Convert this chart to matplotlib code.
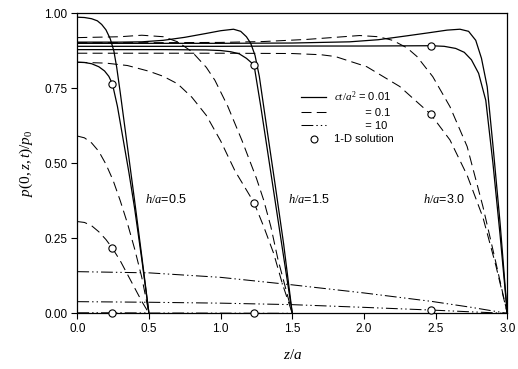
import matplotlib
matplotlib.use("Agg")
import matplotlib.pyplot as plt
from matplotlib.lines import Line2D

plt.rcParams['font.family'] = ['Liberation Sans', 'DejaVu Sans']
plt.rcParams['mathtext.fontset'] = 'custom'
plt.rcParams['mathtext.it'] = 'Liberation Serif:italic'
plt.rcParams['mathtext.rm'] = 'Liberation Serif'
plt.rcParams['lines.scale_dashes'] = False

# ---- h/a = 0.5 ----
z_s05a = [0, 0.05, 0.1, 0.14, 0.17, 0.2, 0.23, 0.255, 0.275, 0.3, 0.35, 0.4, 0.45, 0.5]
p_s05a = [0.987, 0.986, 0.982, 0.975, 0.963, 0.945, 0.915, 0.875, 0.82, 0.735, 0.555, 0.375, 0.19, 0.0]
z_s05b = [0, 0.05, 0.1, 0.15, 0.19, 0.22, 0.245, 0.28, 0.32, 0.36, 0.4, 0.45, 0.5]
p_s05b = [0.837, 0.836, 0.832, 0.822, 0.808, 0.79, 0.765, 0.69, 0.58, 0.47, 0.35, 0.18, 0.0]
z_d05a = [0, 0.05, 0.1, 0.15, 0.2, 0.25, 0.3, 0.35, 0.4, 0.45, 0.5]
p_d05a = [0.591, 0.585, 0.568, 0.54, 0.497, 0.443, 0.375, 0.3, 0.215, 0.12, 0.0]
z_d05b = [0, 0.05, 0.1, 0.15, 0.2, 0.245, 0.3, 0.35, 0.4, 0.45, 0.5]
p_d05b = [0.306, 0.303, 0.292, 0.272, 0.246, 0.217, 0.175, 0.13, 0.085, 0.04, 0.0]
z_dd05 = [0, 0.25, 0.5]
p_dd05 = [0.001, 0.001, 0.0]

# ---- h/a = 1.5 ----
z_s15a = [0, 0.3, 0.45, 0.6, 0.75, 0.9, 1.0, 1.09, 1.14, 1.18, 1.21, 1.24, 1.27, 1.32, 1.38, 1.44, 1.5]
p_s15a = [0.904, 0.904, 0.905, 0.91, 0.92, 0.933, 0.942, 0.947, 0.94, 0.922, 0.9, 0.86, 0.79, 0.625, 0.43, 0.23, 0.0]
z_s15b = [0, 0.3, 0.6, 0.9, 1.0, 1.07, 1.13, 1.18, 1.233, 1.28, 1.35, 1.42, 1.5]
p_s15b = [0.879, 0.879, 0.879, 0.878, 0.876, 0.872, 0.865, 0.85, 0.828, 0.69, 0.47, 0.25, 0.0]
z_d15a = [0, 0.3, 0.45, 0.6, 0.7, 0.8, 0.9, 0.96, 1.05, 1.15, 1.25, 1.3, 1.35, 1.4, 1.45, 1.5]
p_d15a = [0.919, 0.922, 0.927, 0.922, 0.905, 0.872, 0.82, 0.777, 0.69, 0.575, 0.45, 0.378, 0.29, 0.18, 0.09, 0.0]
z_d15b = [0, 0.2, 0.35, 0.5, 0.6, 0.7, 0.8, 0.9, 1.0, 1.1, 1.233, 1.3, 1.37, 1.43, 1.5]
p_d15b = [0.837, 0.834, 0.826, 0.807, 0.79, 0.765, 0.72, 0.66, 0.575, 0.475, 0.369, 0.29, 0.2, 0.1, 0.0]
z_dd15 = [0, 0.75, 1.5]
p_dd15 = [0.001, 0.001, 0.0]

# ---- h/a = 3.0 ----
z_s30a = [0, 0.5, 1.0, 1.5, 1.9, 2.1, 2.3, 2.45, 2.58, 2.67, 2.73, 2.78, 2.82, 2.86, 2.9, 2.95, 3.0]
p_s30a = [0.9, 0.9, 0.9, 0.901, 0.905, 0.912, 0.925, 0.935, 0.944, 0.947, 0.94, 0.91, 0.85, 0.755, 0.56, 0.3, 0.0]
z_s30b = [0, 0.5, 1.0, 1.5, 2.0, 2.465, 2.56, 2.64, 2.7, 2.75, 2.8, 2.85, 2.9, 2.95, 3.0]
p_s30b = [0.89, 0.89, 0.89, 0.891, 0.891, 0.892, 0.89, 0.883, 0.87, 0.845, 0.8, 0.71, 0.5, 0.26, 0.0]
z_d30a = [0, 0.5, 1.0, 1.3, 1.6, 1.8, 1.97, 2.1, 2.2, 2.3, 2.37, 2.48, 2.6, 2.72, 2.83, 2.92, 3.0]
p_d30a = [0.902, 0.902, 0.903, 0.906, 0.913, 0.92, 0.926, 0.922, 0.91, 0.885, 0.856, 0.789, 0.689, 0.556, 0.356, 0.17, 0.0]
z_d30b = [0, 0.5, 1.0, 1.5, 1.7, 1.8, 2.02, 2.25, 2.465, 2.6, 2.72, 2.83, 2.92, 3.0]
p_d30b = [0.867, 0.867, 0.867, 0.866, 0.862, 0.856, 0.822, 0.756, 0.664, 0.578, 0.46, 0.32, 0.16, 0.0]
z_dd30a = [0, 0.5, 1.0, 1.5, 2.0, 2.47, 2.75, 3.0]
p_dd30a = [0.139, 0.135, 0.12, 0.095, 0.068, 0.04, 0.02, 0.0]
z_dd30b = [0, 0.5, 1.0, 1.5, 2.0, 2.47, 2.75, 3.0]
p_dd30b = [0.039, 0.037, 0.034, 0.029, 0.02, 0.011, 0.005, 0.0]

# 1-D solution points
z_1d = [0.245, 0.245, 0.245, 1.233, 1.233, 1.233, 2.465, 2.465, 2.465]
p_1d = [0.765, 0.217, 0.0, 0.828, 0.369, 0.0, 0.892, 0.664, 0.011]

h_labels = ['0.5', '1.5', '3.0']
h_label_z = [0.472, 1.472, 2.41]

DASH = (0, (7.2, 3.8))
DASHDOT = (0, (8.5, 2.2, 1, 2.2, 1, 2.2))
lw = 0.9
lw_d = 0.75

fig = plt.figure(figsize=(5.18, 3.69), dpi=100)
ax = fig.add_axes([0.1492, 0.1508, 0.8301, 0.8131])

for z, p in [(z_s05a, p_s05a), (z_s05b, p_s05b), (z_s15a, p_s15a),
             (z_s15b, p_s15b), (z_s30a, p_s30a), (z_s30b, p_s30b)]:
    ax.plot(z, p, color='black', lw=lw, ls='-')
for z, p in [(z_d05a, p_d05a), (z_d05b, p_d05b), (z_d15a, p_d15a),
             (z_d15b, p_d15b), (z_d30a, p_d30a), (z_d30b, p_d30b)]:
    ax.plot(z, p, color='black', lw=lw_d, ls=DASH)
for z, p in [(z_dd05, p_dd05), (z_dd15, p_dd15), (z_dd30a, p_dd30a), (z_dd30b, p_dd30b)]:
    ax.plot(z, p, color='black', lw=lw_d, ls=DASHDOT)

ax.plot(z_1d, p_1d, 'o', mfc='white', mec='black', ms=5.2, mew=0.8, clip_on=False, zorder=5)

for lab, zx in zip(h_labels, h_label_z):
    ax.text(zx, 0.378, '$h/a$=' + lab, fontsize=9, ha='left', va='center')

ax.set_xlim(0, 3.0)
ax.set_ylim(0, 1.0)
ax.set_xticks([0, 0.5, 1.0, 1.5, 2.0, 2.5, 3.0])
ax.set_xticklabels(['0.0', '0.5', '1.0', '1.5', '2.0', '2.5', '3.0'])
ax.set_yticks([0, 0.25, 0.5, 0.75, 1.0])
ax.set_yticklabels(['0.00', '0.25', '0.50', '0.75', '1.00'])
ax.tick_params(direction='out', length=4, width=0.8, labelsize=8.5, pad=3)
for s in ax.spines.values():
    s.set_linewidth(0.9)

ax.set_xlabel('$z/a$', fontsize=11, labelpad=9)
ax.set_ylabel('$p(0,z,t)/p_0$', fontsize=11, labelpad=7)

handles = [Line2D([], [], color='black', lw=lw, ls='-'),
           Line2D([], [], color='black', lw=lw_d, ls=DASH),
           Line2D([], [], color='black', lw=lw_d, ls=DASHDOT),
           Line2D([], [], ls='none', marker='o', mfc='white', mec='black', ms=5, mew=0.8)]
pad = ' ' * 10
labels = ['$ct/a^2$ = 0.01', pad + '= 0.1', pad + '= 10', '1-D solution']
ax.legend(handles, labels, loc='upper left', bbox_to_anchor=(0.52, 0.745), frameon=False,
          fontsize=8, handlelength=2.3, handletextpad=0.7, labelspacing=0.3, borderpad=0,
          borderaxespad=0)

fig.savefig('out.png', dpi=100)
